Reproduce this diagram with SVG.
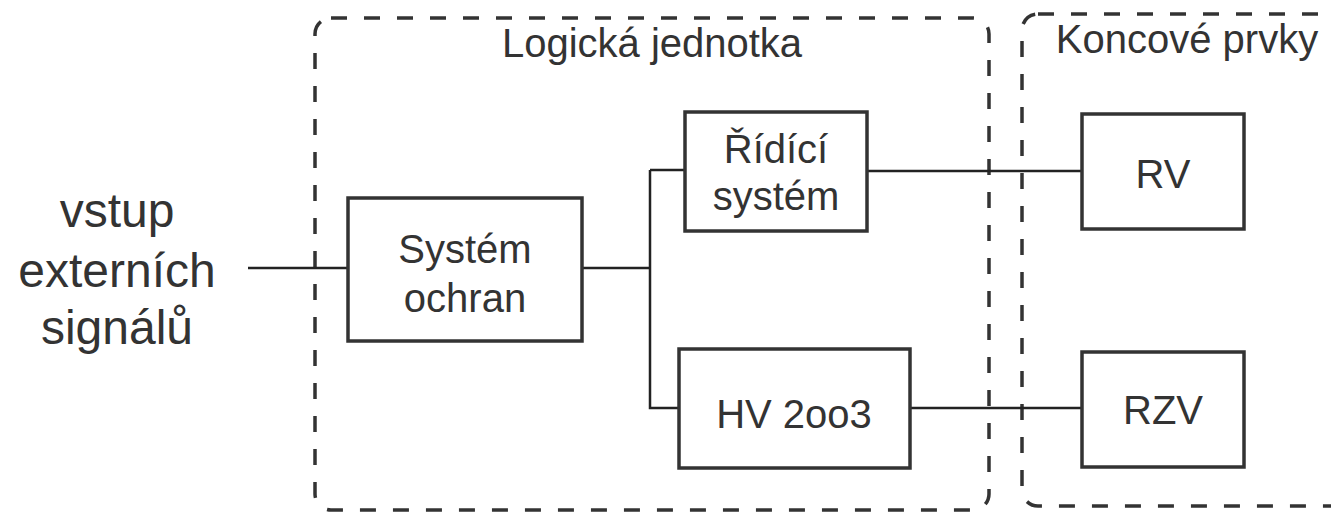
<svg xmlns="http://www.w3.org/2000/svg" width="1331" height="513" viewBox="0 0 1331 513">
<style>
.box{fill:#fff;stroke:#333;stroke-width:3.5}
.grp{fill:none;stroke:#333;stroke-width:3.5;stroke-dasharray:16 17}
.ln{fill:none;stroke:#222;stroke-width:2.5}
text{font-family:"Liberation Sans",Arial,sans-serif;fill:#333;text-anchor:middle}
.t{font-size:40px}
.big{font-size:48px}
</style>
<g id="group-logic">
<rect class="grp" x="315" y="18" width="674" height="492" rx="16"/>
<text class="t" x="652" y="57">Logická jednotka</text>
</g>
<g id="group-end">
<rect class="grp" x="1022" y="14" width="340" height="492" rx="16"/>
<text class="t" x="1187" y="53">Koncové prvky</text>
</g>
<g id="connectors">
<path class="ln" d="M248 268H348"/>
<path class="ln" d="M582 268H650"/>
<path class="ln" d="M650 170V408H679"/>
<path class="ln" d="M650 170H685"/>
<path class="ln" d="M867 171H1082"/>
<path class="ln" d="M910 408H1082"/>
</g>
<g id="input">
<text class="big" x="117" y="227">vstup</text>
<text class="big" x="117" y="287">externích</text>
<text class="big" x="117" y="344">signálů</text>
</g>
<g id="system-ochran">
<rect class="box" x="348" y="198" width="234" height="143"/>
<text class="t" x="465" y="263">Systém</text>
<text class="t" x="465" y="312">ochran</text>
</g>
<g id="ridici-system">
<rect class="box" x="685" y="112" width="182" height="119"/>
<text class="t" x="776" y="163">Řídící</text>
<text class="t" x="776" y="210">systém</text>
</g>
<g id="hv-2oo3">
<rect class="box" x="679" y="349" width="231" height="119"/>
<text class="t" x="794" y="428">HV 2oo3</text>
</g>
<g id="rv">
<rect class="box" x="1082" y="114" width="162" height="115"/>
<text class="t" x="1163" y="188">RV</text>
</g>
<g id="rzv">
<rect class="box" x="1082" y="352" width="162" height="115"/>
<text class="t" x="1163" y="424">RZV</text>
</g>
</svg>
